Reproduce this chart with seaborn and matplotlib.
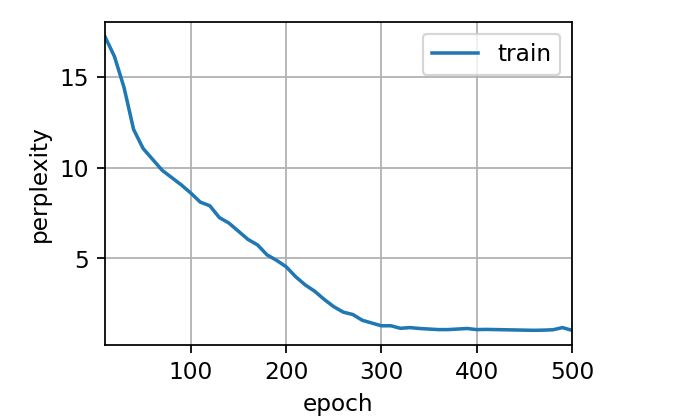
import matplotlib
matplotlib.use("Agg")
import matplotlib.pyplot as plt
import seaborn as sns
import pandas as pd

epochs = list(range(10, 501, 10))
perplexity = [17.2, 16.1, 14.4, 12.1, 11.05, 10.45, 9.85, 9.45, 9.05, 8.6,
              8.1, 7.9, 7.25, 6.95, 6.5, 6.05, 5.75, 5.2, 4.9, 4.55,
              4.0, 3.55, 3.2, 2.75, 2.35, 2.05, 1.92, 1.6, 1.45, 1.3,
              1.3, 1.16, 1.2, 1.15, 1.12, 1.09, 1.09, 1.12, 1.15, 1.09,
              1.1, 1.09, 1.08, 1.07, 1.06, 1.05, 1.06, 1.08, 1.2, 1.05]

df = pd.DataFrame({"epoch": epochs, "perplexity": perplexity, "series": "train"})

plt.rcParams["font.family"] = ["DejaVu Sans"]
plt.rcParams["font.size"] = 10.6
plt.rcParams["xtick.major.pad"] = 3.8
plt.rcParams["ytick.major.pad"] = 3.8
dpi = 158
fig = plt.figure(figsize=(676 / dpi, 419 / dpi), dpi=dpi)
ax = fig.add_axes([105 / 676, 1 - 345 / 419, 467 / 676, 323 / 419])

sns.lineplot(data=df, x="epoch", y="perplexity", hue="series",
             palette=["#1f77b4"], linewidth=1.6, ax=ax)
ax.set_xlim(10, 500)
ax.set_xlabel("epoch")
ax.set_ylabel("perplexity")
ax.grid(True, color="#b0b0b0", linewidth=0.8)
ax.legend(loc="upper right", title=None)
ax.set_xticks([100, 200, 300, 400, 500])
ax.set_yticks([5, 10, 15])

fig.savefig("out.png", dpi=dpi)
